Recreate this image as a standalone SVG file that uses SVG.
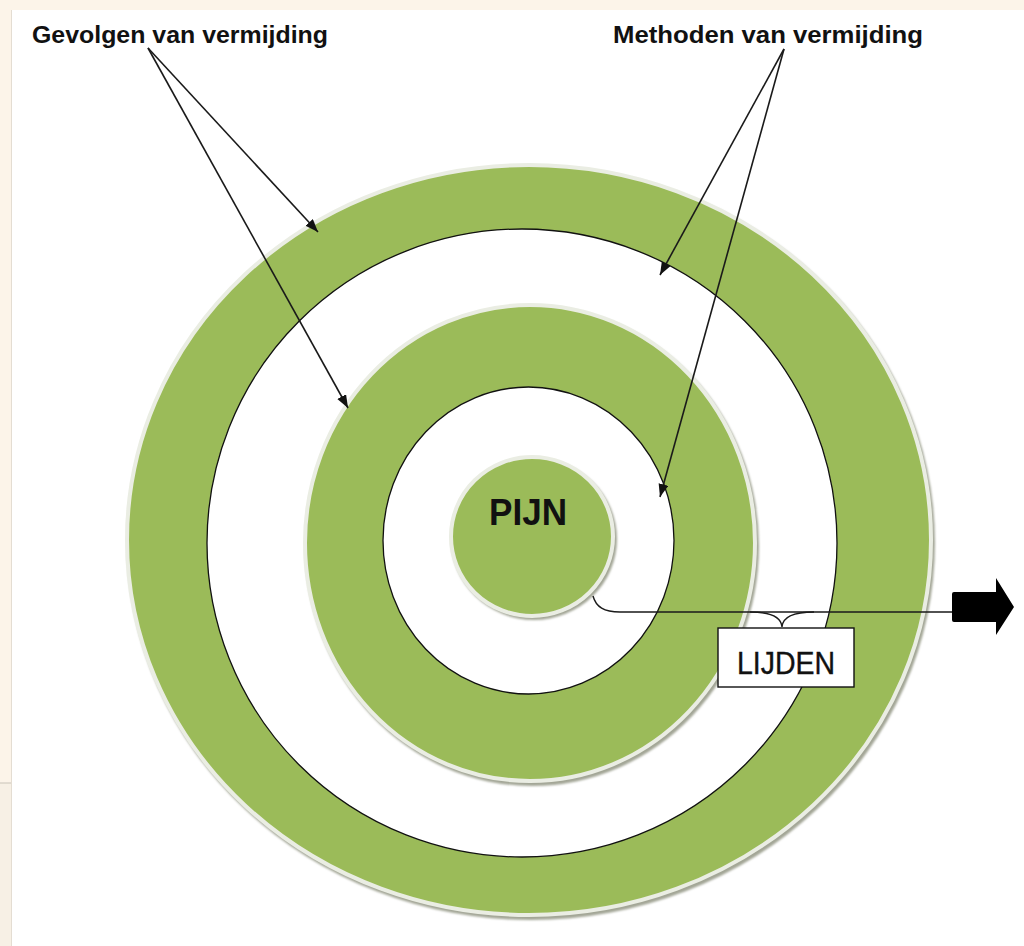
<svg xmlns="http://www.w3.org/2000/svg" width="1024" height="946" viewBox="0 0 1024 946">
<defs>
<style>
.green{fill:#9bbb59;stroke:#eaede3;stroke-width:4}
.shadow{fill:#a3a696;filter:url(#blur)}
.hole{fill:#ffffff;stroke:#111;stroke-width:1.3}
.lbl{font-family:"Liberation Sans",Arial,sans-serif;font-weight:bold;fill:#111}
.ptr{stroke:#1a1a1a;stroke-width:1.6;fill:none;marker-end:url(#ah)}
</style>
<filter id="blur" x="-5%" y="-5%" width="110%" height="110%"><feGaussianBlur stdDeviation="1"/></filter>
<marker id="ah" markerUnits="userSpaceOnUse" markerWidth="14" markerHeight="12" refX="13" refY="5" orient="auto">
<path d="M0,0 L13,5 L0,10 z" fill="#111"/>
</marker>
</defs>
<rect x="0" y="0" width="1024" height="946" fill="#fcf4e9"/>
<rect x="0" y="783" width="11" height="163" fill="#f7f0e5"/>
<line x1="0" y1="783" x2="11" y2="783" stroke="#c9c3b8" stroke-width="1"/>
<rect x="11" y="10" width="1013" height="936" fill="#ffffff"/>
<line x1="11.5" y1="10" x2="11.5" y2="946" stroke="#e4ddd2" stroke-width="1"/>

<g id="outer-ring">
<ellipse class="shadow" cx="531" cy="543" rx="404" ry="377"/>
<ellipse class="green" cx="529" cy="540" rx="402" ry="375"/>
<ellipse class="hole" cx="522" cy="543" rx="315" ry="314"/>
</g>
<g id="middle-ring">
<ellipse class="shadow" cx="532" cy="546" rx="227" ry="240"/>
<ellipse class="green" cx="530" cy="543" rx="225" ry="238"/>
<ellipse class="hole" cx="528.5" cy="540.5" rx="145.5" ry="153.5"/>
</g>
<g id="pijn">
<ellipse class="shadow" cx="534" cy="539" rx="83" ry="81"/>
<ellipse class="green" cx="532" cy="536.5" rx="81" ry="79.5"/>
<text class="lbl" x="528" y="525" font-size="37" text-anchor="middle" textLength="78" lengthAdjust="spacingAndGlyphs">PIJN</text>
</g>

<g id="label-gevolgen">
<text class="lbl" x="32" y="43" font-size="23" textLength="296" lengthAdjust="spacingAndGlyphs">Gevolgen van vermijding</text>
</g>
<g id="label-methoden">
<text class="lbl" x="613" y="43" font-size="23" textLength="310" lengthAdjust="spacingAndGlyphs">Methoden van vermijding</text>
</g>

<g id="connectors">
<line class="ptr" x1="148" y1="48" x2="318" y2="232"/>
<line class="ptr" x1="148" y1="48" x2="348" y2="408"/>
<line class="ptr" x1="784" y1="49" x2="660" y2="275"/>
<line class="ptr" x1="784" y1="49" x2="660" y2="497"/>
<path d="M593,596 C596,607 604,612 620,612 L953,612" stroke="#1a1a1a" stroke-width="1.4" fill="none"/>
<path d="M750,612 Q781,612 782,627 Q783,612 814,612" stroke="#1a1a1a" stroke-width="1.4" fill="none"/>
<path d="M954,592 L996,592 L996,578 L1014,607 L996,635 L996,622 L954,622 Q952,622 952,620 L952,594 Q952,592 954,592 z" fill="#000"/>
</g>

<g id="lijden">
<rect x="718" y="628" width="136" height="59" fill="#ffffff" stroke="#111" stroke-width="1.4"/>
<text x="786" y="674" font-family="'Liberation Sans',Arial,sans-serif" font-size="31" text-anchor="middle" fill="#111" stroke="#111" stroke-width="0.4" textLength="98" lengthAdjust="spacingAndGlyphs">LIJDEN</text>
</g>
</svg>
